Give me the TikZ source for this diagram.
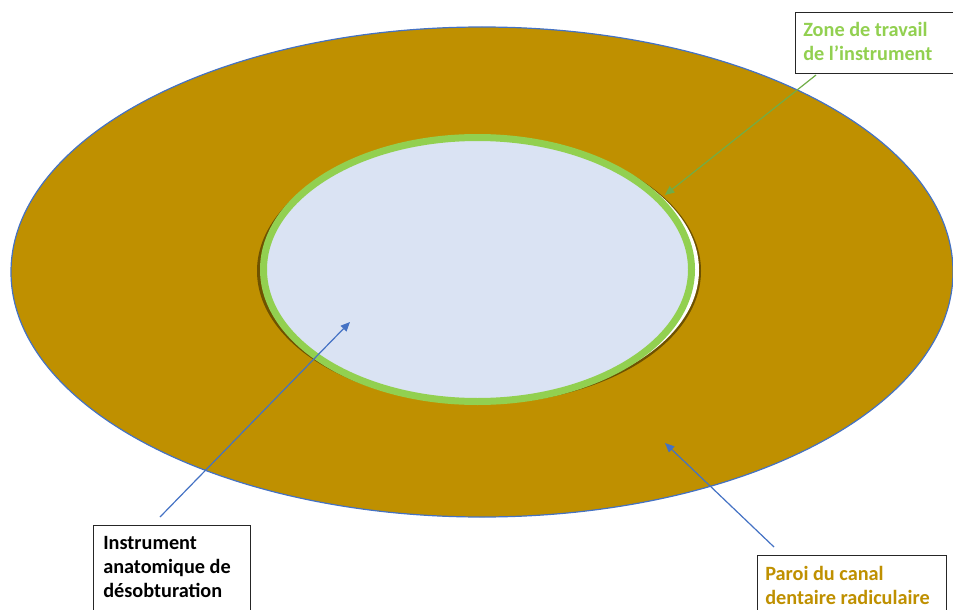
\documentclass[tikz,border=0pt]{standalone}
\usepackage{fontspec}
\setmainfont{Carlito}
\usetikzlibrary{arrows.meta}
\definecolor{wall}{HTML}{BF9000}
\definecolor{wallshadow}{HTML}{6E5200}
\definecolor{zonegreen}{HTML}{92D050}
\definecolor{arrgreen}{HTML}{70AD47}
\definecolor{arrblue}{HTML}{4472C4}
\definecolor{lumen}{HTML}{DAE3F3}
\tikzset{
  labelbox/.style={draw=black!85, line width=1.1pt, fill=white, anchor=north west, inner sep=0pt},
  labeltext/.style={anchor=north west, align=left, inner sep=0pt, font=\fontsize{15.2}{18}\selectfont\bfseries},
  pointer/.style={line width=0.9pt, -{Triangle[length=7pt,width=6pt]}},
}
\begin{document}
\begin{tikzpicture}[x=0.75pt,y=-0.75pt]
\useasboundingbox (0,0) rectangle (953,610);
% root wall
\filldraw[fill=wall, draw=arrblue, line width=0.9pt] (482,272) ellipse [x radius=353.25pt, y radius=183.75pt];
% canal (shadow + white)
\fill[wallshadow] (479,271) ellipse [x radius=166.5pt, y radius=99.75pt];
\fill[white] (481,270) ellipse [x radius=163.5pt, y radius=98.25pt];
% instrument with working zone
\filldraw[fill=lumen, draw=zonegreen, line width=5.25pt] (477.5,269.5) ellipse [x radius=160.5pt, y radius=99pt];
% boxes
\node[labelbox, minimum width=130pt, minimum height=45.75pt] (zonebox) at (795,12) {};
\node[labeltext, text=zonegreen] (zonetext) at (803,22) {Zone de travail\\de l’instrument};
\node[labelbox, minimum width=117.75pt, minimum height=80pt] (instbox) at (93,525) {};
\node[labeltext, text=black] (insttext) at (103,536) {Instrument\\anatomique de\\désobturation};
\node[labelbox, minimum width=141.75pt, minimum height=60pt] (paroibox) at (757,555) {};
\node[labeltext, text=wall] (paroitext) at (765,566) {Paroi du canal\\dentaire radiculaire};
% pointers
\coordinate (zonestart) at (816,75);
\coordinate (zoneend) at (665,195);
\coordinate (inststart) at (160,517);
\coordinate (instend) at (350,322);
\coordinate (paroistart) at (774,547);
\coordinate (paroiend) at (665,443);
\draw[pointer, arrgreen] (zonestart) -- (zoneend);
\draw[pointer, arrblue] (inststart) -- (instend);
\draw[pointer, arrblue] (paroistart) -- (paroiend);
\end{tikzpicture}
\end{document}
